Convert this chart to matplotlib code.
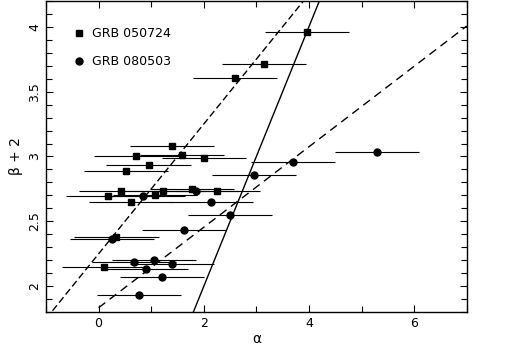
import matplotlib
matplotlib.use("Agg")
import matplotlib.pyplot as plt
from matplotlib.lines import Line2D
from matplotlib.ticker import MultipleLocator
import numpy as np

# GRB 050724 (squares)
sq_alpha = [3.97, 3.14, 2.60, 1.40, 0.72, 1.58, 2.00, 0.95, 0.52, 0.42, 1.22,
            0.18, 1.08, 0.61, 1.78, 2.26, 0.34, 0.11]
sq_beta2 = [3.96, 3.714, 3.604, 3.083, 3.006, 3.011, 2.986, 2.937, 2.889, 2.738, 2.735,
            2.699, 2.702, 2.646, 2.753, 2.733, 2.38, 2.147]
sq_err = [0.8] * len(sq_alpha)

# GRB 080503 (circles)
ci_alpha = [5.30, 3.70, 2.96, 1.85, 0.84, 2.14, 2.50, 1.62, 1.05, 0.67, 1.40,
            0.90, 1.21, 0.77, 0.26]
ci_beta2 = [3.037, 2.957, 2.856, 2.735, 2.692, 2.651, 2.546, 2.431, 2.206, 2.186, 2.173,
            2.13, 2.07, 1.932, 2.365]
ci_err = [0.8] * len(ci_alpha)

# closure relations: beta+2 = slope * alpha + intercept
rel_solid = (1.0, 0.0)
rel_long = (0.5, 2.25)
rel_short = (0.31, 1.835)

fig = plt.figure(figsize=(5.15, 3.47), dpi=100)
ax = fig.add_axes([0.0893, 0.100, 0.8170, 0.898])

x_all = np.array([-1.0, 7.0])
ax.plot(x_all, rel_solid[0] * x_all + rel_solid[1], color='k', lw=1.0, ls='-')
ax.plot(x_all, rel_long[0] * x_all + rel_long[1], color='k', lw=1.0, ls=(0, (5, 2.5)))
x_sh = np.array([0.0, 7.0])
ax.plot(x_sh, rel_short[0] * x_sh + rel_short[1], color='k', lw=1.0, ls=(0, (6, 4)))

ax.errorbar(sq_alpha, sq_beta2, xerr=sq_err, fmt='s', color='k', ms=4.5,
            elinewidth=0.8, capsize=0)
ax.errorbar(ci_alpha, ci_beta2, xerr=ci_err, fmt='o', color='k', ms=5,
            elinewidth=0.8, capsize=0)

ax.set_xlim(-1, 7)
ax.set_ylim(1.8, 4.2)
ax.xaxis.set_major_locator(MultipleLocator(2))
ax.xaxis.set_minor_locator(MultipleLocator(1))
ax.yaxis.set_major_locator(MultipleLocator(0.5))
ax.yaxis.set_minor_locator(MultipleLocator(0.1))
ax.tick_params(which='both', direction='in', top=True, right=True, labelsize=9)
ax.tick_params(which='major', length=5, width=0.8)
ax.tick_params(which='minor', length=4, width=0.8)
ax.set_yticks([2, 2.5, 3, 3.5, 4])
ax.set_yticklabels(['2', '2.5', '3', '3.5', '4'], rotation=90, va='center')
for s in ax.spines.values():
    s.set_linewidth(1.0)

ax.set_xlabel('\u03b1', fontsize=10, labelpad=1)
ax.set_ylabel('\u03b2 + 2', fontsize=10)

handles = [Line2D([], [], marker='s', color='k', ls='none', ms=4.5),
           Line2D([], [], marker='o', color='k', ls='none', ms=5)]
ax.legend(handles, ['GRB 050724', 'GRB 080503'], loc='upper left', frameon=False,
          fontsize=9, handlelength=0.8, handletextpad=0.6, labelspacing=1.2,
          bbox_to_anchor=(0.04, 0.952))

fig.savefig('out.png', dpi=100)
